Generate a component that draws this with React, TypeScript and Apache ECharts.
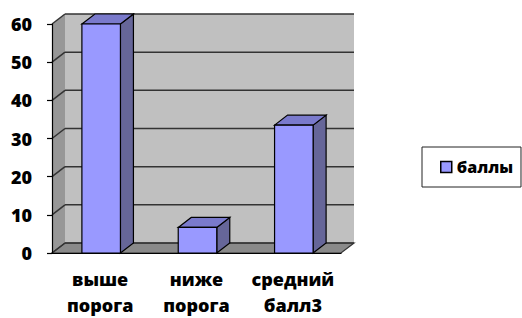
import React, { useEffect, useRef } from "react";
import * as echarts from "echarts";

const categories = ["выше\nпорога", "ниже\nпорога", "средний\nбалл3"];
const values = [60, 6.7, 33.5];
const seriesName = "баллы";
const yTicks = [0, 10, 20, 30, 40, 50, 60];
const yMin = 0;
const yMax = 60;
const yInterval = 10;

const DX = 13;
const DY = -10;
const FONT = "'Open Sans', 'Noto Sans', sans-serif";
const WEIGHT = 800;

export default function App() {
  const ref = useRef<HTMLDivElement>(null);
  useEffect(() => {
    const chart = echarts.init(ref.current!, null, { renderer: "svg" });
    chart.setOption({
      animation: false,
      grid: { left: 52, top: 24, width: 289, height: 229 },
      xAxis: {
        type: "category",
        data: categories,
        axisLine: { lineStyle: { color: "#000", width: 1.2 } },
        axisTick: { length: 5, lineStyle: { color: "#000", width: 1.2 } },
        axisLabel: {
          interval: 0,
          margin: 13,
          color: "#000",
          fontFamily: FONT,
          fontWeight: WEIGHT,
          fontSize: 18,
          lineHeight: 26,
        },
        z: 5,
      },
      yAxis: {
        type: "value",
        min: yMin,
        max: yMax,
        interval: yInterval,
        axisLine: { show: true, lineStyle: { color: "#000", width: 1.2 } },
        axisTick: { show: true, length: 5, lineStyle: { color: "#000", width: 1.2 } },
        splitLine: { show: false },
        axisLabel: {
          margin: 20,
          color: "#000",
          fontFamily: FONT,
          fontWeight: WEIGHT,
          fontSize: 18,
        },
        z: 5,
      },
      legend: {
        data: [
          {
            name: seriesName,
            icon: "rect",
            itemStyle: { color: "#9999FF", borderColor: "#000", borderWidth: 1.5 },
          },
        ],
        orient: "vertical",
        left: 422,
        top: 147,
        padding: [12, 8, 12, 18],
        itemWidth: 11,
        itemHeight: 11,
        borderColor: "#222",
        borderWidth: 1,
        selectedMode: false,
        textStyle: { fontFamily: FONT, fontWeight: WEIGHT, fontSize: 16, color: "#000" },
      },
      series: [
        {
          type: "custom",
          name: "frame",
          silent: true,
          z: 1,
          data: [0],
          renderItem: (params: any, api: any) => {
            const cs = params.coordSys;
            const x0 = cs.x;
            const y0 = cs.y;
            const w = cs.width;
            const h = cs.height;
            const children: any[] = [
              {
                type: "rect",
                shape: { x: x0 + DX, y: y0 + DY, width: w, height: h },
                style: { fill: "#C0C0C0" },
              },
              {
                type: "polygon",
                shape: { points: [[x0, y0], [x0 + DX, y0 + DY], [x0 + DX, y0 + h + DY], [x0, y0 + h]] },
                style: { fill: "#979797" },
              },
              {
                type: "polygon",
                shape: {
                  points: [[x0, y0 + h], [x0 + DX, y0 + h + DY], [x0 + w + DX, y0 + h + DY], [x0 + w, y0 + h]],
                },
                style: { fill: "#8A8A8A", stroke: "#333", lineWidth: 1.2 },
              },
            ];
            yTicks.forEach((t) => {
              const y = api.coord([0, t])[1];
              children.push({
                type: "line",
                shape: { x1: x0 + DX, y1: y + DY, x2: x0 + w + DX, y2: y + DY },
                style: { stroke: "#333", lineWidth: 1.5 },
              });
              children.push({
                type: "line",
                shape: { x1: x0, y1: y, x2: x0 + DX, y2: y + DY },
                style: { stroke: "#333", lineWidth: 1.5 },
              });
            });
            return { type: "group", children };
          },
        },
        {
          type: "custom",
          name: seriesName,
          z: 3,
          data: values.map((v, i) => [i, v]),
          encode: { x: 0, y: 1 },
          itemStyle: { color: "#9999FF" },
          renderItem: (params: any, api: any) => {
            const i = api.value(0);
            const v = api.value(1);
            const top = api.coord([i, v]);
            const base = api.coord([i, 0]);
            const bw = api.size([1, 0])[0] * 0.4;
            const xl = top[0] - bw / 2 + 1;
            const xr = xl + bw;
            const yt = top[1];
            const yb = base[1];
            const stroke = { stroke: "#000", lineWidth: 1.2 };
            return {
              type: "group",
              children: [
                {
                  type: "polygon",
                  shape: { points: [[xr, yt], [xr + DX, yt + DY], [xr + DX, yb + DY], [xr, yb]] },
                  style: { fill: "#666699", ...stroke },
                },
                {
                  type: "polygon",
                  shape: { points: [[xl, yt], [xl + DX, yt + DY], [xr + DX, yt + DY], [xr, yt]] },
                  style: { fill: "#7A7ACC", ...stroke },
                },
                {
                  type: "rect",
                  shape: { x: xl, y: yt, width: bw, height: yb - yt },
                  style: { fill: "#9999FF", ...stroke },
                },
              ],
            };
          },
        },
      ],
    });
    return () => chart.dispose();
  }, []);
  return (
    <div
      ref={ref}
      style={{ position: "fixed", left: 0, top: 0, width: 522, height: 318, background: "#fff" }}
    />
  );
}
